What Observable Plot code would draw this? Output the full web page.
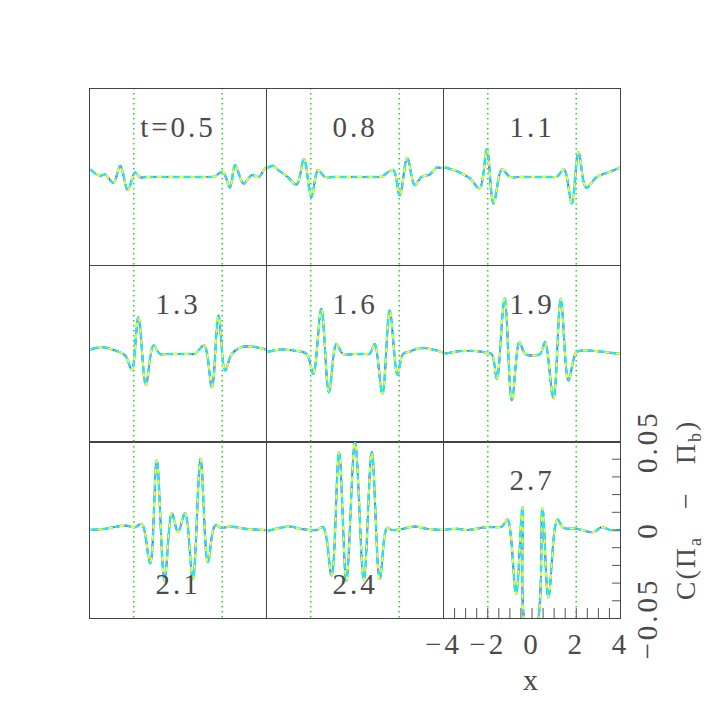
<!DOCTYPE html>
<html><head><meta charset="utf-8">
<script src="https://cdn.jsdelivr.net/npm/d3@7"></script>
<script src="https://cdn.jsdelivr.net/npm/@observablehq/plot@0.6"></script>
<style>
body{margin:0;background:#fff;}
#chart{position:relative;width:708px;height:708px;font-family:"Liberation Serif",serif;color:#4a4a4a;background:#fff;}
#chart svg{position:absolute;overflow:visible;}
#chart svg text{letter-spacing:3px;}
#ylab{position:absolute;left:688px;top:510px;transform:translate(-50%,-50%) rotate(-90deg);white-space:nowrap;font-size:28px;letter-spacing:2px;}
#ylab sub{font-size:18px;}
</style></head><body><div id="chart"><div id="ylab">C(Π<sub>a</sub> &nbsp;&nbsp;−&nbsp;&nbsp; Π<sub>b</sub>)</div></div>
<script>
// panel labels (time)
const times = ["t=0.5","0.8","1.1","1.3","1.6","1.9","2.1","2.4","2.7"];

// curves, [x, C] pairs
const c05 = [[-4,0.0048],[-3.74,0.002],[-3.52,0.0007],[-3.29,0.0014],[-2.92,-0.0033],[-2.61,0.0063],[-2.27,-0.0074],[-1.94,0.0025],[-1.71,-0.0002],[-1.4,0],[0,0],[1.3,0],[1.65,0.0002],[2.02,0.003],[2.35,-0.006],[2.58,0.0067],[2.96,-0.0037],[3.33,0.001],[3.64,0],[3.94,0.0048],[4,0.0048]];
const c08 = [[-4,0.0048],[-3.7,0.0063],[-3.47,0.0039],[-3.1,0.0007],[-2.64,-0.0042],[-2.31,0.0101],[-1.97,-0.0112],[-1.67,0.0039],[-1.36,0],[-1.0,0],[0,0],[0.9,0],[1.2,0.0002],[1.72,0.0039],[2.02,-0.0103],[2.36,0.0108],[2.7,-0.0046],[3.0,0],[3.38,0.0014],[3.68,0.0052],[4,0.0048]];
const c11 = [[-4,0.0057],[-3.4,0.0033],[-2.8,-0.0008],[-2.37,-0.0065],[-2.04,0.0158],[-1.74,-0.015],[-1.36,0.0042],[-0.99,0],[-0.6,0],[0,0],[0.8,0],[1.12,0.0002],[1.45,0.0042],[1.8,-0.015],[2.1,0.0140],[2.45,-0.006],[2.93,0],[3.53,0.003],[4,0.0054]];
const c13 = [[-4,0.0024],[-3.44,0.0039],[-2.84,0.002],[-2.39,-0.0008],[-2.09,-0.0088],[-1.79,0.0208],[-1.45,-0.0174],[-1.11,0.0048],[-0.81,0],[-0.4,0],[0,0],[0.45,0],[0.77,0.0002],[1.18,0.0048],[1.53,-0.0188],[1.83,0.0217],[2.13,-0.0093],[2.43,0],[2.88,0.0039],[3.33,0.0042],[4,0.0025]];
const c16 = [[-4,0.001],[-3.4,0.0025],[-2.8,0.002],[-2.19,0],[-1.89,-0.0112],[-1.52,0.0255],[-1.18,-0.0216],[-0.84,0.0057],[-0.54,0],[0,0],[0.4,0],[0.67,0.0002],[0.89,0.0057],[1.24,-0.0225],[1.57,0.0246],[1.92,-0.0118],[2.17,0],[2.48,0.0014],[2.93,0.0033],[3.53,0.0025],[4,0.0007]];
const c19 = [[-4,0],[-3.25,0.0016],[-2.49,0.0016],[-2.04,0.0007],[-1.82,0],[-1.59,-0.014],[-1.24,0.0315],[-0.91,-0.0263],[-0.57,0.0067],[-0.31,0],[0.07,-0.0008],[0.37,0],[0.59,0.0067],[0.97,-0.025],[1.3,0.0312],[1.65,-0.015],[2.02,0.001],[2.48,0.002],[3.08,0.0014],[4,0]];
const c21 = [[-4,0],[-3.29,0.0007],[-2.39,0.0025],[-1.94,0.0016],[-1.64,0.0035],[-1.26,-0.0188],[-0.96,0.0393],[-0.61,-0.0285],[-0.28,0.0095],[0,-0.0012],[0.32,0.0095],[0.67,-0.0276],[1.02,0.0402],[1.35,-0.0182],[1.68,0.0025],[1.98,0.0012],[2.36,0.002],[3.03,0.0007],[4,0]];
const c24 = [[-4,-0.0007],[-2.95,0.002],[-2.49,0.0007],[-1.74,0],[-1.44,0.0016],[-1.06,-0.0257],[-0.72,0.044],[-0.39,-0.0285],[0,0.0496],[0.4,-0.0282],[0.76,0.044],[1.12,-0.0276],[1.45,0.0012],[1.65,0],[2.17,0.0007],[2.7,0.002],[3.23,0.0007],[4,0]];
const c27 = [[-4,0],[-3.4,0.0007],[-2.95,0],[-2.04,0.0016],[-1.36,0.002],[-1.11,0.0059],[-0.72,-0.036],[-0.43,0.0129],[-0.23,-0.056],[0.14,-0.056],[0.47,0.0123],[0.74,-0.038],[1.15,0.0059],[1.42,0.0012],[2.02,0.0007],[2.78,-0.0012],[3.15,0.0016],[3.53,0],[4,0]];
const curves = [c05,c08,c11,c13,c16,c19,c21,c24,c27];

const xDomain = [-4, 4];
const yDomain = [-0.05, 0.05];
const guideX = [-2, 2];
const xLabelTicks = [-4, -2, 0, 2, 4];
const xMinorTicks = [-3.5,-3,-2.5,-2,-1.5,-1,-0.5,0,0.5,1,1.5,2,2.5,3,3.5];
const yLabelTicks = [-0.05, 0, 0.05];
const yMinorTicks = [-0.04,-0.03,-0.02,-0.01,0,0.01,0.02,0.03,0.04];

// layout
const colLeft = [89, 266, 443];
const rowTop = [88, 265, 441];
const P = 177;
const labelAt = ["top","top","top","top","top","top","bottom","bottom","top"];

const seriesStyles = [
  {stroke:"#1414c8", strokeWidth:1.6},
  {stroke:"#ff1eff", strokeWidth:2, strokeDasharray:"5,4"},
  {stroke:"#1ee8f0", strokeWidth:2.4, strokeDasharray:"10,3"},
  {stroke:"#ffff00", strokeWidth:1.8, strokeDasharray:"3,8", strokeDashoffset:2}
];

const fmtY = d3.format(".2~f");
const chart = document.getElementById("chart");
curves.forEach((data, i) => {
  const last = i === 8;
  const marks = [
    Plot.ruleX(guideX, {stroke:"#22dd22", strokeWidth:1.6, strokeDasharray:"1.6,3.4"}),
    ...seriesStyles.map(s => Plot.line(data, {x: d => d[0], y: d => d[1], curve: "catmull-rom", clip: true, ...s})),
    Plot.frame({stroke:"#444", strokeWidth:1}),
    Plot.text([times[i]], {frameAnchor: labelAt[i], dy: labelAt[i] === "top" ? 28 : -25, fontSize: 29, fill: "#4a4a4a"})
  ];
  if (last) {
    marks.push(
      Plot.tickX(xMinorTicks, {x: d => d, stroke: "#555", insetTop: P - 10}),
      Plot.tickY(yMinorTicks, {y: d => d, stroke: "#555", insetLeft: P - 8}),
      Plot.axisX({ticks: xLabelTicks, tickSize: 0, tickPadding: 15, fontSize: 29, label: null}),
      Plot.axisY({anchor: "right", ticks: yLabelTicks, tickSize: 0, tickPadding: 16, tickRotate: -90, lineAnchor: "top", fontSize: 29, tickFormat: fmtY, label: null}),
      Plot.text(["x"], {frameAnchor: "bottom", dy: 71, fontSize: 30, fill: "#4a4a4a"})
    );
  }
  const svg = Plot.plot({
    width: P + (last ? 88 : 0),
    height: P + (last ? 90 : 0),
    marginTop: 0, marginLeft: 0,
    marginRight: last ? 88 : 0,
    marginBottom: last ? 90 : 0,
    x: {domain: xDomain, axis: null},
    y: {domain: yDomain, axis: null},
    style: {background: "transparent", overflow: "visible", fontFamily: "Liberation Serif, serif", fontSize: "28px", color: "#4a4a4a"},
    marks
  });
  svg.style.left = colLeft[i % 3] + "px";
  svg.style.top = rowTop[Math.floor(i / 3)] + "px";
  svg.style.maxWidth = "none";
  chart.appendChild(svg);
});
</script></body></html>
